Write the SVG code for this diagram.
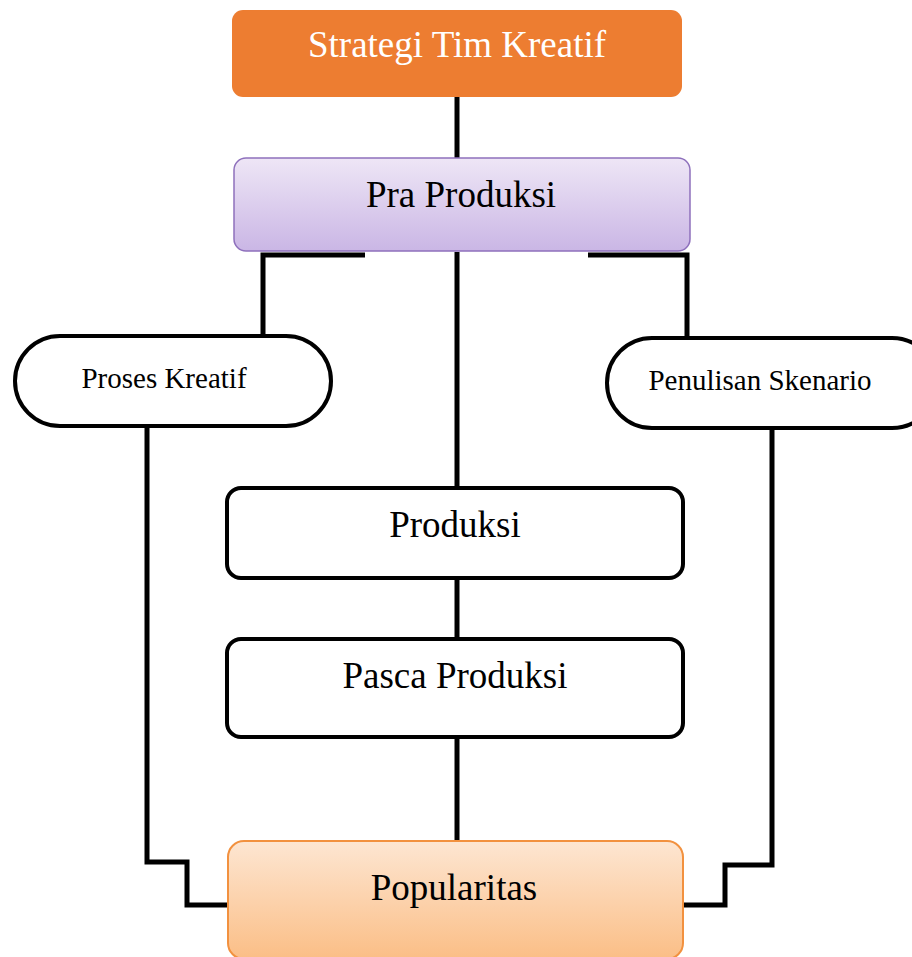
<svg xmlns="http://www.w3.org/2000/svg" width="912" height="957" viewBox="0 0 912 957">
<defs>
<linearGradient id="gPra" x1="0" y1="0" x2="0" y2="1">
<stop offset="0" stop-color="#EEE6F6"/>
<stop offset="1" stop-color="#CAB6E5"/>
</linearGradient>
<linearGradient id="gPop" x1="0" y1="0" x2="0" y2="1">
<stop offset="0" stop-color="#FDE6D2"/>
<stop offset="1" stop-color="#FBBE86"/>
</linearGradient>
<style>
text{font-family:"Liberation Serif","Times New Roman",serif;text-anchor:middle;fill:#000}
.box{fill:#fff;stroke:#000;stroke-width:4}
.con{fill:none;stroke:#000;stroke-width:5;stroke-linejoin:miter}
</style>
</defs>
<g id="connectors">
<path class="con" d="M457 97 V160"/>
<path class="con" d="M457 252 V488"/>
<path class="con" d="M365 255 H263 V336"/>
<path class="con" d="M588 255 H687 V337"/>
<path class="con" d="M457 578 V639"/>
<path class="con" d="M457 737 V841"/>
<path class="con" d="M147 426 V862 H187 V905 H229"/>
<path class="con" d="M772 428 V865 H725 V905 H682"/>
</g>
<g id="strategi">
<rect x="232" y="10" width="450" height="87" rx="11" fill="#ED7D31"/>
<text x="457" y="57" font-size="37" style="fill:#fff">Strategi Tim Kreatif</text>
</g>
<g id="pra-produksi">
<rect x="234" y="158" width="456" height="93" rx="12" fill="url(#gPra)" stroke="#8E70BC" stroke-width="1.5"/>
<text x="461" y="207" font-size="37">Pra Produksi</text>
</g>
<g id="proses-kreatif">
<rect x="15" y="336" width="316" height="90" rx="45" class="box"/>
<text x="164" y="388" font-size="29">Proses Kreatif</text>
</g>
<g id="penulisan-skenario">
<rect x="607" y="338" width="330" height="90" rx="45" class="box"/>
<text x="760" y="390" font-size="29">Penulisan Skenario</text>
</g>
<g id="produksi">
<rect x="227" y="488" width="456" height="90" rx="14" class="box"/>
<text x="455" y="537" font-size="37">Produksi</text>
</g>
<g id="pasca-produksi">
<rect x="227" y="639" width="456" height="98" rx="14" class="box"/>
<text x="455" y="688" font-size="37">Pasca Produksi</text>
</g>
<g id="popularitas">
<rect x="228" y="841" width="455" height="118" rx="16" fill="url(#gPop)" stroke="#F2913F" stroke-width="2"/>
<text x="454" y="900" font-size="37">Popularitas</text>
</g>
</svg>
